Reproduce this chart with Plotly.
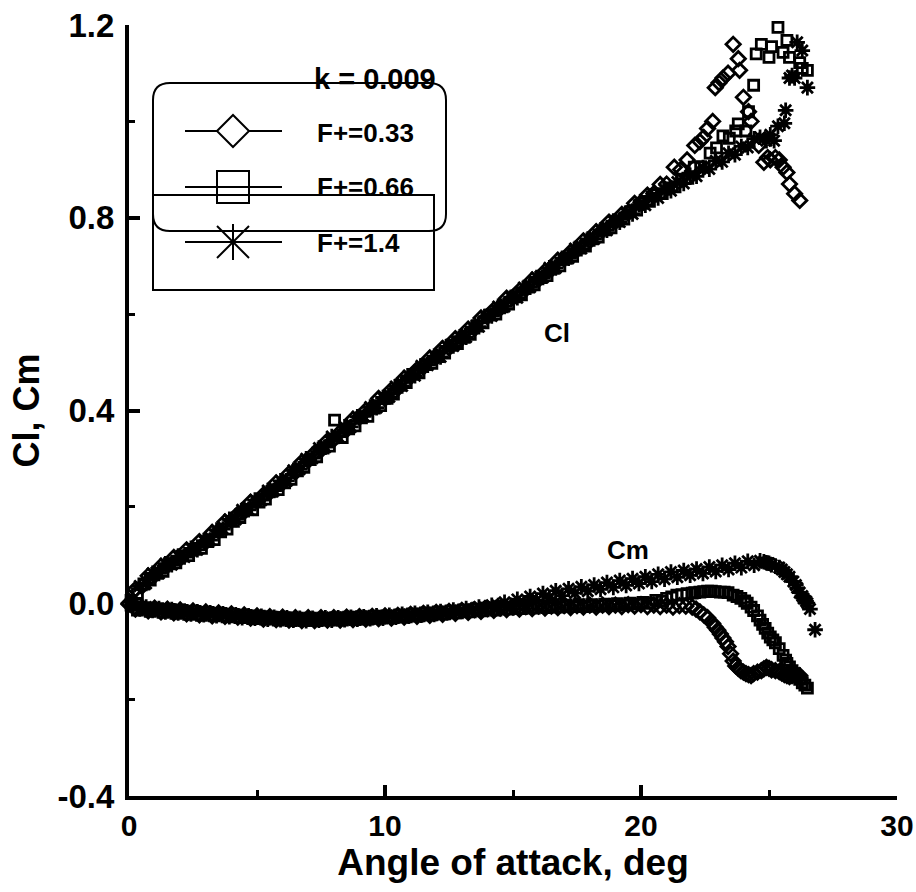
import plotly.graph_objects as go

# ---------------- data ----------------
# F+ = 0.33 (diamonds)
d_alpha_cl = [0.00, 0.25, 0.50, 0.75, 1.00, 1.25, 1.50, 1.75, 2.00, 2.25, 2.50, 2.75, 3.00, 3.25,
              3.50, 3.75, 4.00, 4.25, 4.50, 4.75, 5.00, 5.25, 5.50, 5.75, 6.00, 6.25, 6.50, 6.75,
              7.00, 7.25, 7.50, 7.75, 8.00, 8.25, 8.50, 8.75, 9.00, 9.25, 9.50, 9.75, 10.00,
              10.25, 10.50, 10.75, 11.00, 11.25, 11.50, 11.75, 12.00, 12.25, 12.50, 12.75, 13.00,
              13.25, 13.50, 13.75, 14.00, 14.25, 14.50, 14.75, 15.00, 15.25, 15.50, 15.75, 16.00,
              16.25, 16.50, 16.75, 17.00, 17.25, 17.50, 17.75, 18.00, 18.25, 18.50, 18.75, 19.00,
              19.25, 19.50, 19.75, 20.00, 20.25, 20.50, 20.75, 21.00,
              21.3, 21.55, 21.8, 22.1, 22.3, 22.45, 22.6, 22.8, 22.9, 23.05, 23.2, 23.4, 23.6,
              23.8, 23.85, 24.0, 24.2, 24.3, 24.6, 24.8, 24.95, 25.05, 25.25, 25.4, 25.55, 25.7,
              25.8, 26.0, 26.2]
d_cl = [0.000, 0.029, 0.035, 0.057, 0.058, 0.077, 0.078, 0.095, 0.093, 0.111, 0.110, 0.128,
        0.127, 0.147, 0.150, 0.169, 0.172, 0.185, 0.190, 0.210, 0.212, 0.225, 0.230, 0.250,
        0.250, 0.269, 0.272, 0.293, 0.296, 0.312, 0.318, 0.337, 0.340, 0.355, 0.360, 0.382,
        0.386, 0.400, 0.405, 0.425, 0.425, 0.443, 0.446, 0.467, 0.470, 0.485, 0.490, 0.509,
        0.510, 0.529, 0.530, 0.549, 0.550, 0.569, 0.570, 0.592, 0.595, 0.609, 0.612, 0.633,
        0.634, 0.649, 0.652, 0.671, 0.672, 0.689, 0.693, 0.712, 0.714, 0.729, 0.733, 0.752,
        0.752, 0.771, 0.774, 0.791, 0.792, 0.807, 0.810, 0.830, 0.832, 0.847, 0.850, 0.869,
        0.870,
        0.905, 0.900, 0.920, 0.950, 0.958, 0.967, 0.985, 1.000, 1.070, 1.080, 1.090, 1.100,
        1.160, 1.130, 1.106, 1.050, 1.020, 1.000, 0.950, 0.915, 0.925, 0.920, 0.925, 0.920,
        0.905, 0.894, 0.870, 0.850, 0.836]
d_alpha_cm = [0.00, 0.25, 0.50, 0.75, 1.00, 1.25, 1.50, 1.75, 2.00, 2.25, 2.50, 2.75, 3.00, 3.25,
              3.50, 3.75, 4.00, 4.25, 4.50, 4.75, 5.00, 5.25, 5.50, 5.75, 6.00, 6.25, 6.50, 6.75,
              7.00, 7.25, 7.50, 7.75, 8.00, 8.25, 8.50, 8.75, 9.00, 9.25, 9.50, 9.75, 10.00,
              10.25, 10.50, 10.75, 11.00, 11.25, 11.50, 11.75, 12.00, 12.25, 12.50, 12.75, 13.00,
              13.25, 13.50, 13.75, 14.00, 14.25, 14.50, 14.75, 15.00, 15.25, 15.50, 15.75, 16.00,
              16.25, 16.50, 16.75, 17.00, 17.25, 17.50, 17.75, 18.00, 18.25, 18.50, 18.75, 19.00,
              19.25, 19.50, 19.75, 20.00, 20.25, 20.50, 20.75, 21.00, 21.25, 21.50, 21.75,
              22.0, 22.15, 22.3, 22.45, 22.6, 22.8, 22.9, 23.0, 23.1, 23.2, 23.3, 23.4, 23.5,
              23.6, 23.7, 23.8, 23.9, 24.0, 24.1, 24.2, 24.3, 24.4, 24.55, 24.7, 24.8, 24.9,
              25.0, 25.1, 25.25, 25.4, 25.5, 25.6, 25.7, 25.8, 25.9, 26.0, 26.1, 26.2]
d_cm = [-0.002, -0.012, -0.008, -0.016, -0.010, -0.018, -0.012, -0.020, -0.014, -0.022,
        -0.016, -0.024, -0.018, -0.026, -0.020, -0.027, -0.022, -0.029, -0.024, -0.031,
        -0.026, -0.033, -0.028, -0.034, -0.029, -0.035, -0.030, -0.036, -0.030, -0.036,
        -0.030, -0.035, -0.030, -0.035, -0.029, -0.034, -0.028, -0.033, -0.027, -0.032,
        -0.026, -0.031, -0.025, -0.029, -0.023, -0.027, -0.021, -0.025, -0.019, -0.023,
        -0.017, -0.021, -0.015, -0.019, -0.013, -0.017, -0.011, -0.015, -0.010, -0.013,
        -0.008, -0.012, -0.007, -0.011, -0.006, -0.010, -0.006, -0.009, -0.005, -0.009,
        -0.005, -0.008, -0.004, -0.008, -0.004, -0.007, -0.004, -0.007, -0.003, -0.006,
        -0.003, -0.007, -0.004, -0.007, -0.004, -0.008, -0.005, -0.006,
        -0.008, -0.012, -0.018, -0.024, -0.030, -0.042, -0.050, -0.056, -0.064, -0.072,
        -0.080, -0.090, -0.105, -0.120, -0.130, -0.135, -0.140, -0.143, -0.146, -0.148,
        -0.150, -0.146, -0.143, -0.140, -0.136, -0.133, -0.135, -0.138, -0.140, -0.142,
        -0.145, -0.148, -0.150, -0.152, -0.150, -0.148, -0.149, -0.150]

# F+ = 0.66 (squares)
s_alpha_cl = [0.08, 0.33, 0.58, 0.83, 1.08, 1.33, 1.58, 1.83, 2.08, 2.33, 2.58, 2.83, 3.08, 3.33,
              3.58, 3.83, 4.08, 4.33, 4.58, 4.83, 5.08, 5.33, 5.58, 5.83, 6.08, 6.33, 6.58, 6.83,
              7.08, 7.33, 7.58, 7.83, 8.03, 8.33, 8.58, 8.83, 9.08, 9.33, 9.58, 9.83, 10.08,
              10.33, 10.58, 10.83, 11.08, 11.33, 11.58, 11.83, 12.08, 12.33, 12.58, 12.83, 13.08,
              13.33, 13.58, 13.83, 14.08, 14.33, 14.58, 14.83, 15.08, 15.33, 15.58, 15.83, 16.08,
              16.33, 16.58, 16.83, 17.08, 17.33, 17.58, 17.83, 18.08, 18.33, 18.58, 18.83, 19.08,
              19.33, 19.58, 19.83, 20.08, 20.33, 20.58, 20.83, 21.08, 21.33, 21.58, 21.83, 22.08,
              22.33,
              22.7, 22.95, 23.2, 23.45, 23.7, 23.8, 24.1, 24.2, 24.4, 24.5, 24.7, 25.0, 25.1,
              25.35, 25.55, 25.7, 25.8, 26.2, 26.3, 26.5]
s_cl = [0.006, 0.020, 0.040, 0.048, 0.062, 0.066, 0.082, 0.084, 0.098, 0.099, 0.112, 0.114,
        0.128, 0.132, 0.148, 0.154, 0.170, 0.178, 0.195, 0.194, 0.210, 0.216, 0.232, 0.236,
        0.250, 0.257, 0.275, 0.282, 0.298, 0.304, 0.322, 0.326, 0.380, 0.344, 0.362, 0.368,
        0.385, 0.388, 0.405, 0.410, 0.425, 0.434, 0.452, 0.458, 0.475, 0.478, 0.495, 0.498,
        0.512, 0.519, 0.535, 0.539, 0.552, 0.558, 0.575, 0.582, 0.598, 0.600, 0.615, 0.621,
        0.636, 0.640, 0.656, 0.661, 0.676, 0.680, 0.695, 0.700, 0.716, 0.720, 0.737, 0.741,
        0.756, 0.760, 0.775, 0.779, 0.793, 0.797, 0.812, 0.816, 0.830, 0.834, 0.848, 0.850,
        0.862, 0.864, 0.880, 0.882, 0.905, 0.906,
        0.934, 0.945, 0.970, 0.965, 0.980, 0.995, 0.980, 1.020, 1.075, 1.140, 1.160, 1.133,
        1.155, 1.195, 1.143, 1.168, 1.133, 1.122, 1.110, 1.106]
s_alpha_cm = [0.08, 0.33, 0.58, 0.83, 1.08, 1.33, 1.58, 1.83, 2.08, 2.33, 2.58, 2.83, 3.08, 3.33,
              3.58, 3.83, 4.08, 4.33, 4.58, 4.83, 5.08, 5.33, 5.58, 5.83, 6.08, 6.33, 6.58, 6.83,
              7.08, 7.33, 7.58, 7.83, 8.08, 8.33, 8.58, 8.83, 9.08, 9.33, 9.58, 9.83, 10.08,
              10.33, 10.58, 10.83, 11.08, 11.33, 11.58, 11.83, 12.08, 12.33, 12.58, 12.83, 13.08,
              13.33, 13.58, 13.83, 14.08, 14.33, 14.58, 14.83, 15.08, 15.33, 15.58, 15.83, 16.08,
              16.33, 16.58, 16.83, 17.08, 17.33, 17.58, 17.83, 18.08, 18.33, 18.58, 18.83, 19.08,
              19.33, 19.58, 19.83, 20.08, 20.33, 20.58, 20.83,
              21.0, 21.2, 21.4, 21.6, 21.8, 22.0, 22.1, 22.3, 22.45, 22.6, 22.75, 22.9, 23.1,
              23.25, 23.4, 23.6, 23.75, 23.9, 24.05, 24.15, 24.3, 24.4, 24.55, 24.65, 24.75,
              24.85, 24.95, 25.05, 25.15, 25.25, 25.4, 25.55, 25.65, 25.7, 25.8, 25.9, 26.0,
              26.1, 26.2, 26.3, 26.4, 26.5]
s_cm = [-0.004, -0.014, -0.009, -0.017, -0.011, -0.019, -0.013, -0.021, -0.015, -0.023,
        -0.017, -0.025, -0.019, -0.026, -0.021, -0.028, -0.023, -0.030, -0.025, -0.032,
        -0.027, -0.033, -0.029, -0.035, -0.030, -0.036, -0.031, -0.036, -0.031, -0.036,
        -0.031, -0.035, -0.030, -0.035, -0.029, -0.034, -0.028, -0.033, -0.027, -0.031,
        -0.026, -0.030, -0.024, -0.028, -0.022, -0.026, -0.020, -0.024, -0.018, -0.022,
        -0.016, -0.020, -0.014, -0.018, -0.012, -0.016, -0.010, -0.014, -0.009, -0.012,
        -0.007, -0.011, -0.006, -0.010, -0.005, -0.009, -0.004, -0.008, -0.004, -0.007,
        -0.003, -0.007, -0.003, -0.006, -0.002, -0.005, -0.001, -0.004, 0.000, -0.002,
        0.002, 0.000, 0.006, 0.004,
        0.010, 0.013, 0.017, 0.018, 0.020, 0.021, 0.022, 0.023, 0.024, 0.025, 0.025, 0.024,
        0.023, 0.023, 0.022, 0.017, 0.014, 0.010, 0.005, 0.000, -0.008, -0.015, -0.026,
        -0.035, -0.044, -0.052, -0.062, -0.070, -0.076, -0.082, -0.094, -0.108, -0.118,
        -0.125, -0.132, -0.140, -0.146, -0.153, -0.158, -0.165, -0.170, -0.176]

# F+ = 1.4 (asterisks)
t_alpha_cl = [0.17, 0.42, 0.67, 0.92, 1.17, 1.42, 1.67, 1.92, 2.17, 2.42, 2.67, 2.92, 3.17, 3.42,
              3.67, 3.92, 4.17, 4.42, 4.67, 4.92, 5.17, 5.42, 5.67, 5.92, 6.17, 6.42, 6.67, 6.92,
              7.17, 7.42, 7.67, 7.92, 8.17, 8.42, 8.67, 8.92, 9.17, 9.42, 9.67, 9.92, 10.17,
              10.42, 10.67, 10.92, 11.17, 11.42, 11.67, 11.92, 12.17, 12.42, 12.67, 12.92, 13.17,
              13.42, 13.67, 13.92, 14.17, 14.42, 14.67, 14.92, 15.17, 15.42, 15.67, 15.92, 16.17,
              16.42, 16.67, 16.92, 17.17, 17.42, 17.67, 17.92, 18.17, 18.42, 18.67, 18.92, 19.17,
              19.42, 19.67, 19.92, 20.17, 20.42, 20.67, 20.92, 21.17, 21.42, 21.67, 21.92, 22.17,
              22.42, 22.67, 22.92, 23.17, 23.42, 23.67, 23.92, 24.17, 24.42,
              24.65, 24.9, 25.05, 25.2, 25.35, 25.6, 25.65, 25.8, 25.9, 26.0, 26.1, 26.3, 26.5]
t_cl = [0.010, 0.036, 0.041, 0.062, 0.062, 0.082, 0.080, 0.098, 0.096, 0.114, 0.111, 0.130,
        0.131, 0.152, 0.154, 0.174, 0.174, 0.194, 0.194, 0.214, 0.214, 0.234, 0.234, 0.254,
        0.254, 0.276, 0.278, 0.300, 0.301, 0.322, 0.324, 0.346, 0.346, 0.366, 0.366, 0.387,
        0.388, 0.407, 0.406, 0.427, 0.428, 0.450, 0.451, 0.472, 0.472, 0.493, 0.494, 0.513,
        0.511, 0.533, 0.534, 0.553, 0.552, 0.573, 0.574, 0.595, 0.596, 0.616, 0.616, 0.635,
        0.634, 0.655, 0.656, 0.676, 0.676, 0.696, 0.696, 0.716, 0.716, 0.736, 0.736, 0.756,
        0.756, 0.775, 0.774, 0.793, 0.791, 0.810, 0.808, 0.827, 0.826, 0.844, 0.841, 0.858,
        0.856, 0.874, 0.871, 0.888, 0.886, 0.904, 0.901, 0.918, 0.916, 0.934, 0.931, 0.948,
        0.946, 0.964,
        0.967, 0.960, 0.972, 0.960, 0.990, 0.996, 1.023, 1.090, 1.095, 1.090, 1.164, 1.147,
        1.070]
t_alpha_cm = [0.17, 0.42, 0.67, 0.92, 1.17, 1.42, 1.67, 1.92, 2.17, 2.42, 2.67, 2.92, 3.17, 3.42,
              3.67, 3.92, 4.17, 4.42, 4.67, 4.92, 5.17, 5.42, 5.67, 5.92, 6.17, 6.42, 6.67, 6.92,
              7.17, 7.42, 7.67, 7.92, 8.17, 8.42, 8.67, 8.92, 9.17, 9.42, 9.67, 9.92, 10.17,
              10.42, 10.67, 10.92, 11.17, 11.42, 11.67, 11.92, 12.17, 12.42, 12.67, 12.92, 13.17,
              13.42, 13.67, 13.92, 14.17, 14.42, 14.67, 14.92, 15.17, 15.42, 15.67, 15.92, 16.17,
              16.42, 16.67, 16.92, 17.17, 17.42, 17.67, 17.92, 18.17, 18.42, 18.67, 18.92, 19.17,
              19.42, 19.67, 19.92, 20.17, 20.42, 20.67, 20.92, 21.17, 21.42, 21.67, 21.92, 22.17,
              22.42, 22.67, 22.92, 23.17, 23.42, 23.67, 23.92, 24.17, 24.42,
              24.65, 24.8, 24.9, 25.0, 25.1, 25.25, 25.4, 25.5, 25.6, 25.7, 25.8, 25.95, 26.05,
              26.1, 26.2, 26.3, 26.35, 26.45, 26.5, 26.6, 26.8]
t_cm = [-0.006, -0.012, -0.008, -0.015, -0.011, -0.018, -0.013, -0.020, -0.016, -0.022,
        -0.018, -0.024, -0.020, -0.026, -0.022, -0.028, -0.024, -0.030, -0.026, -0.031,
        -0.027, -0.033, -0.029, -0.034, -0.030, -0.035, -0.031, -0.036, -0.031, -0.035,
        -0.030, -0.035, -0.030, -0.034, -0.029, -0.033, -0.028, -0.032, -0.026, -0.031,
        -0.025, -0.029, -0.023, -0.027, -0.021, -0.025, -0.019, -0.023, -0.017, -0.020,
        -0.014, -0.017, -0.011, -0.013, -0.008, -0.009, -0.004, -0.005, 0.002, -0.004,
        0.008, 0.000, 0.014, 0.006, 0.020, 0.011, 0.026, 0.016, 0.030, 0.021, 0.034, 0.025,
        0.038, 0.029, 0.043, 0.033, 0.047, 0.037, 0.051, 0.041, 0.055, 0.045, 0.060, 0.050,
        0.065, 0.054, 0.068, 0.058, 0.071, 0.062, 0.075, 0.066, 0.079, 0.070, 0.083, 0.074,
        0.087, 0.079,
        0.088, 0.086, 0.084, 0.083, 0.080, 0.077, 0.074, 0.070, 0.065, 0.060, 0.055, 0.045,
        0.038, 0.032, 0.022, 0.015, 0.010, 0.004, 0.000, -0.012, -0.055]

series_names = ["F+=0.33", "F+=0.66", "F+=1.4"]
k_label = "k = 0.009"
x_title = "Angle of attack, deg"
y_title = "Cl, Cm"
x_tickvals = [0, 10, 20, 30]
x_ticktext = ["0", "10", "20", "30"]
y_tickvals = [-0.4, 0.0, 0.4, 0.8, 1.2]
y_ticktext = ["-0.4", "0.0", "0.4", "0.8", "1.2"]

# ---------------- figure ----------------
FONT = "Liberation Sans, Arial, sans-serif"
W, H = 916, 892
L, R, T, B = 129, 19, 25, 96
PW, PH = W - L - R, H - T - B


def px(x):
    return (x - L) / PW


def py(y):
    return (H - B - y) / PH


fig = go.Figure()

styles = [
    dict(symbol="diamond-open", size=11),
    dict(symbol="square-open", size=10),
    dict(symbol="asterisk-open", size=13),
]
datasets = [
    (d_alpha_cl, d_cl, d_alpha_cm, d_cm),
    (s_alpha_cl, s_cl, s_alpha_cm, s_cm),
    (t_alpha_cl, t_cl, t_alpha_cm, t_cm),
]
for name, st, (acl, cl, acm, cm) in zip(series_names, styles, datasets):
    for xs, ys, suffix in ((acl, cl, " Cl"), (acm, cm, " Cm")):
        fig.add_trace(go.Scatter(
            x=xs, y=ys, mode="markers", name=name + suffix, showlegend=False,
            cliponaxis=False,
            marker=dict(symbol=st["symbol"], size=st["size"], color="black",
                        line=dict(color="black", width=2.8)),
        ))

# ---------------- hand-drawn legend (as in the reference) ----------------
shapes = []
x0, x1, y0, y1, r = 153, 446, 83, 231, 17
path = (f"M {px(x0 + r)},{py(y0)} L {px(x1 - r)},{py(y0)} "
        f"Q {px(x1)},{py(y0)} {px(x1)},{py(y0 + r)} L {px(x1)},{py(y1 - r)} "
        f"Q {px(x1)},{py(y1)} {px(x1 - r)},{py(y1)} L {px(x0 + r)},{py(y1)} "
        f"Q {px(x0)},{py(y1)} {px(x0)},{py(y1 - r)} L {px(x0)},{py(y0 + r)} "
        f"Q {px(x0)},{py(y0)} {px(x0 + r)},{py(y0)} Z")
shapes.append(dict(type="path", path=path, xref="paper", yref="paper",
                   line=dict(color="black", width=2)))
shapes.append(dict(type="rect", xref="paper", yref="paper",
                   x0=px(153), x1=px(434), y0=py(195), y1=py(290),
                   line=dict(color="black", width=2)))

rows = [131, 187, 242]
cx = 233
for yy in rows:
    shapes.append(dict(type="line", xref="paper", yref="paper",
                       x0=px(185), x1=px(282), y0=py(yy), y1=py(yy),
                       line=dict(color="black", width=2)))
h = 16
yy = rows[0]
shapes.append(dict(type="path", xref="paper", yref="paper",
                   path=f"M {px(cx - h)},{py(yy)} L {px(cx)},{py(yy - h)} L {px(cx + h)},{py(yy)} "
                        f"L {px(cx)},{py(yy + h)} Z",
                   fillcolor="white", line=dict(color="black", width=2)))
yy = rows[1]
shapes.append(dict(type="rect", xref="paper", yref="paper",
                   x0=px(cx - h), x1=px(cx + h), y0=py(yy - h), y1=py(yy + h),
                   line=dict(color="black", width=2)))
yy = rows[2]
for (ax0, ay0, ax1, ay1) in [(cx, yy - 18, cx, yy + 18),
                             (cx - 16, yy - 16, cx + 16, yy + 16),
                             (cx - 16, yy + 16, cx + 16, yy - 16)]:
    shapes.append(dict(type="line", xref="paper", yref="paper",
                       x0=px(ax0), x1=px(ax1), y0=py(ay0), y1=py(ay1),
                       line=dict(color="black", width=2)))

annotations = []
for name, yy in zip(series_names, [133, 187, 243]):
    annotations.append(dict(text=name, xref="paper", yref="paper", x=px(315), y=py(yy),
                            xanchor="left", yanchor="middle", showarrow=False,
                            font=dict(family=FONT, size=26, color="black", weight="bold")))
annotations.append(dict(text=k_label, xref="paper", yref="paper", x=px(375), y=py(79),
                        xanchor="center", yanchor="middle", showarrow=False,
                        font=dict(family=FONT, size=29, color="black", weight="bold")))
annotations.append(dict(text="Cl", x=16.7, y=0.56, xanchor="center", yanchor="middle",
                        showarrow=False,
                        font=dict(family=FONT, size=26, color="black", weight="bold")))
annotations.append(dict(text="Cm", x=19.5, y=0.11, xanchor="center", yanchor="middle",
                        showarrow=False,
                        font=dict(family=FONT, size=26, color="black", weight="bold")))

axis_common = dict(
    showline=True, linecolor="black", linewidth=4, mirror=False,
    showgrid=False, zeroline=False,
    ticks="inside", ticklen=11, tickwidth=4, tickcolor="black",
)

fig.update_layout(
    width=W, height=H,
    margin=dict(l=L, r=R, t=T, b=B, autoexpand=False),
    paper_bgcolor="white", plot_bgcolor="white",
    shapes=shapes, annotations=annotations,
    xaxis=dict(range=[0, 30], tickmode="array", tickvals=x_tickvals, ticktext=x_ticktext,
               tickfont=dict(family=FONT, size=30, color="black", weight="bold"),
               minor=dict(ticks="inside", ticklen=6, tickwidth=3, tickcolor="black",
                          tickmode="linear", tick0=0, dtick=5),
               title=dict(text=x_title, standoff=6,
                          font=dict(family=FONT, size=37, color="black", weight="bold")),
               **axis_common),
    yaxis=dict(range=[-0.4, 1.2], tickmode="array", tickvals=y_tickvals, ticktext=y_ticktext,
               tickfont=dict(family=FONT, size=33, color="black", weight="bold"),
               ticklabelstandoff=4,
               minor=dict(ticks="inside", ticklen=6, tickwidth=3, tickcolor="black",
                          tickmode="linear", tick0=-0.4, dtick=0.2),
               title=dict(text=y_title, standoff=8,
                          font=dict(family=FONT, size=36, color="black", weight="bold")),
               **axis_common),
)

fig.write_html("out.html")
